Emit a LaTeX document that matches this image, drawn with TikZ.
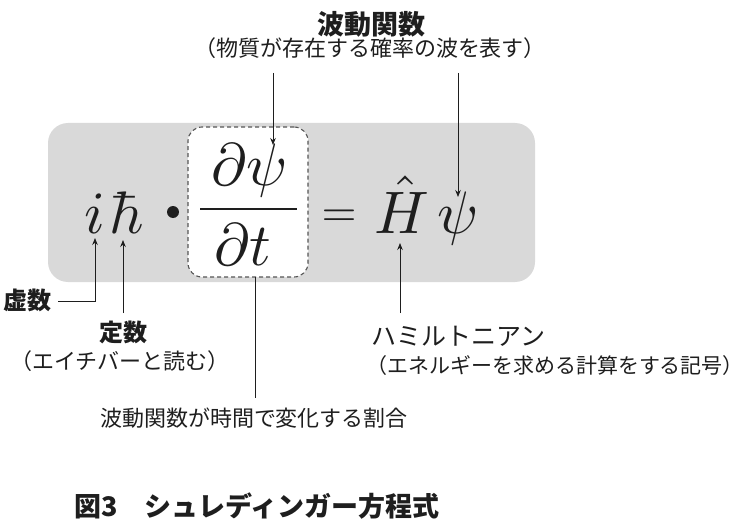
\documentclass[tikz,border=0pt]{standalone}
\usepackage{graphicx}
\usepackage{fontspec}
\newfontfamily\jp{Noto Sans CJK JP}
\usetikzlibrary{arrows.meta}
\definecolor{ink}{HTML}{1E1E1E}
\definecolor{boxgray}{HTML}{D9D9D9}
\definecolor{dashgray}{HTML}{555555}
\newcommand\mathbig[1]{\scalebox{6}{$#1$}}
\tikzset{
  lbl/.style={inner sep=0pt, text=ink, font=\jp},
  mth/.style={inner sep=0pt, text=ink},
  arr/.style={draw=ink, line width=0.8pt, -{Stealth[length=7pt,width=5.5pt]}},
  ln/.style={draw=ink, line width=0.8pt},
}
\begin{document}
\begin{tikzpicture}[x=1pt,y=-1pt]
\useasboundingbox (0,0) rectangle (756,527);
% boxes
\node[fill=boxgray, rounded corners=20pt, minimum width=487pt, minimum height=159pt, inner sep=0pt] (eqbox) at (291.5,202.5) {};
\node[fill=white, draw=dashgray, dashed, dash pattern=on 4pt off 3pt, line width=1.1pt, rounded corners=14pt, minimum width=120pt, minimum height=150pt, inner sep=0pt] (dbox) at (248,202) {};
% math
\node[mth, anchor=base] (i) at (95,233) {\mathbig{i}};
\node[mth, anchor=base] (hbar) at (127,233) {\mathbig{\hbar}};
\node[circle, fill=ink, minimum size=12pt, inner sep=0pt] (dotop) at (173,212) {};
\node[mth, anchor=base] (num) at (250,185) {\mathbig{\partial\psi}};
\node[mth, anchor=base] (den) at (243,265) {\mathbig{\partial t}};
\draw[ink, line width=2pt] (200,209) -- (297,209);
\node[mth, anchor=base] (eq) at (339,226) {\scalebox{4.5}{$=$}};
\node[mth, anchor=base] (H) at (402,233) {\mathbig{\hat{H}}};
\node[mth, anchor=base] (psi) at (458,233) {\mathbig{\psi}};
% labels
\node[lbl, font=\jp\bfseries\fontsize{27}{27}\selectfont] (wave) at (371,24) {波動関数};
\node[lbl, font=\jp\fontsize{22}{22}\selectfont] (wavesub) at (370,48) {（物質が存在する確率の波を表す）};
\node[lbl, font=\jp\bfseries\fontsize{24}{24}\selectfont] (kyo) at (28,300) {虚数};
\node[lbl, font=\jp\bfseries\fontsize{24}{24}\selectfont] (tei) at (123,332) {定数};
\node[lbl, font=\jp\fontsize{22}{22}\selectfont] (teisub) at (120,361) {（エイチバーと読む）};
\node[lbl, font=\jp\fontsize{22}{22}\selectfont] (rate) at (254,418) {波動関数が時間で変化する割合};
\node[lbl, font=\jp\fontsize{25}{25}\selectfont] (ham) at (458,336) {ハミルトニアン};
\node[lbl, font=\jp\fontsize{21}{21}\selectfont] (hamsub) at (555,366) {（エネルギーを求める計算をする記号）};
\node[lbl, font=\jp\bfseries\fontsize{27}{27}\selectfont, anchor=west] (title) at (74,506) {図3\hspace{1em}シュレディンガー方程式};
% connector coordinates
\coordinate (w1) at (273,73);
\coordinate (w1e) at (273,145);
\coordinate (w2) at (458,73);
\coordinate (w2e) at (458,197);
\coordinate (k1) at (58,301);
\coordinate (k2) at (95,301);
\coordinate (ke) at (95,238);
\coordinate (t1) at (123,313);
\coordinate (te) at (123,240);
\coordinate (h1) at (400,313);
\coordinate (he) at (400,243);
\coordinate (r1) at (255,277);
\coordinate (r2) at (255,398);
% connectors
\draw[arr] (w1) -- (w1e);
\draw[arr] (w2) -- (w2e);
\draw[arr] (k1) -- (k2) -- (ke);
\draw[arr] (t1) -- (te);
\draw[arr] (h1) -- (he);
\draw[ln] (r1) -- (r2);
\end{tikzpicture}
\end{document}
